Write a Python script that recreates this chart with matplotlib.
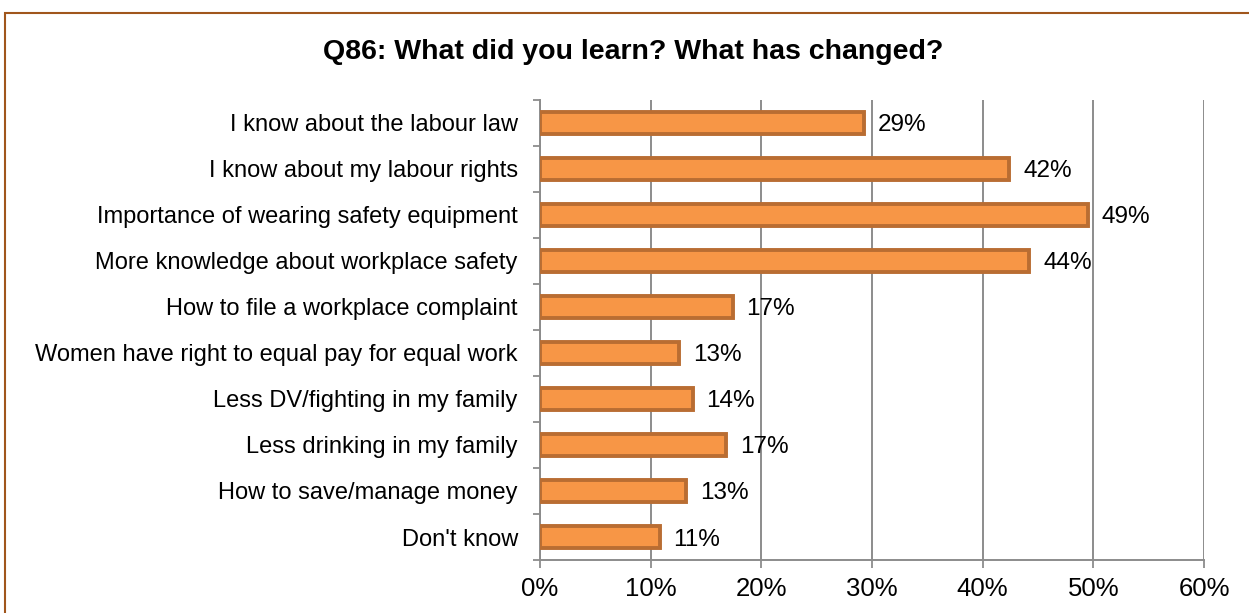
import matplotlib

matplotlib.use("Agg")
import matplotlib.pyplot as plt
from matplotlib.patches import Rectangle

plt.rcParams["font.family"] = ["Liberation Sans", "DejaVu Sans"]

CATEGORIES = [
    "I know about the labour law",
    "I know about my labour rights",
    "Importance of wearing safety equipment",
    "More knowledge about workplace safety",
    "How to file a workplace complaint",
    "Women have right to equal pay for equal work",
    "Less DV/fighting in my family",
    "Less drinking in my family",
    "How to save/manage money",
    "Don't know",
]
VALUES = [29.3, 42.4, 49.5, 44.2, 17.4, 12.6, 13.8, 16.8, 13.2, 10.8]
LABELS = ["29%", "42%", "49%", "44%", "17%", "13%", "14%", "17%", "13%", "11%"]
XTICKS = [0, 10, 20, 30, 40, 50, 60]

FACE = "#F79646"
EDGE = "#B96D32"
GRID = "#8C8C8C"


def main() -> None:
    fig = plt.figure(figsize=(12.49, 6.13), dpi=100)
    # brown frame around the chart area (cut off at right/bottom)
    fig.patches.append(Rectangle((5 / 1249, -0.05), 1.1, 1 - 13 / 613 + 0.05,
                                 transform=fig.transFigure, fill=False,
                                 edgecolor="#A0561C", linewidth=1.5))
    ax = fig.add_axes([540 / 1249, 1 - 560 / 613, (1204 - 540) / 1249, 460 / 613])

    y = list(range(len(CATEGORIES)))
    ax.barh(y, VALUES, height=0.46, color=FACE, edgecolor=EDGE, linewidth=2.8, zorder=3)
    for yi, v, lab in zip(y, VALUES, LABELS):
        ax.annotate(lab, (v, yi), xytext=(10, 0), textcoords="offset points",
                    va="center_baseline", ha="left", fontsize=17.5, color="black",
                    zorder=4)

    ax.set_xlim(0, 60)
    ax.set_ylim(len(CATEGORIES) - 0.5, -0.5)
    ax.set_xticks(XTICKS)
    ax.set_xticklabels([f"{t}%" for t in XTICKS], fontsize=18.5)
    ax.set_yticks(y)
    ax.set_yticklabels(CATEGORIES, fontsize=17)
    ax.set_yticks([i - 0.5 for i in range(len(CATEGORIES) + 1)], minor=True)
    ax.tick_params(axis="y", which="major", length=0, pad=16)
    ax.tick_params(axis="y", which="minor", length=5, width=1.3, color=GRID, direction="out")
    ax.tick_params(axis="x", length=6, width=1.3, color=GRID, pad=6)
    ax.grid(axis="x", color=GRID, linewidth=1.4, zorder=0)
    ax.spines[["top", "right"]].set_visible(False)
    ax.spines[["left", "bottom"]].set_color(GRID)
    ax.spines[["left", "bottom"]].set_linewidth(1.4)

    fig.text(633 / 1249, 1 - 52 / 613, "Q86: What did you learn? What has changed?",
             ha="center", va="center", fontsize=20.5, fontweight="bold")
    fig.savefig("out.png", dpi=100)


if __name__ == "__main__":
    main()
